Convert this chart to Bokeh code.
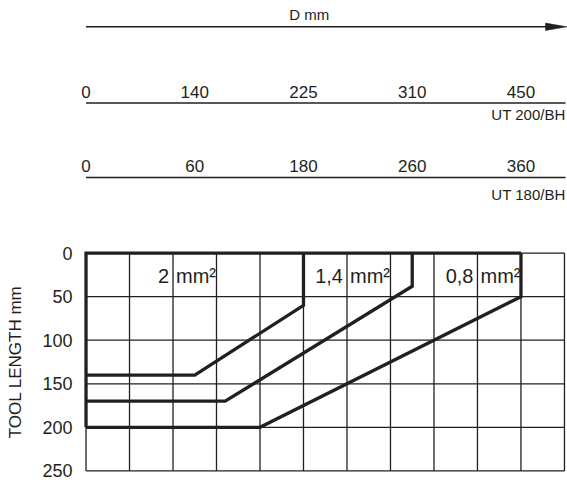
from bokeh.plotting import figure
from bokeh.layouts import column
from bokeh.models import Range1d, FixedTicker
from bokeh.core.properties import value
from bokeh.embed import file_html
from bokeh.resources import INLINE

# ---------------- data ----------------
# grid columns (x, in chart cells) and tool length rows (mm)
grid_cols = list(range(0, 12))
grid_rows = [0, 50, 100, 150, 200, 250]

# top diameter scales: tick positions in grid cells and their labels
scale_pos = [0, 2.5, 5, 7.5, 10]
ut200_labels = ["0", "140", "225", "310", "450"]
ut180_labels = ["0", "60", "180", "260", "360"]

# limit curves (x in grid cells, y = tool length mm)
curve_2_x = [0, 2.5, 5, 5]
curve_2_y = [140, 140, 60, 0]
curve_14_x = [0, 3.2, 7.5, 7.5]
curve_14_y = [170, 170, 38, 0]
curve_08_x = [0, 4, 10, 10]
curve_08_y = [200, 200, 50, 0]

# outer frame of the usable area
frame_x = [10, 0, 0]
frame_y = [0, 0, 200]

area_values = ["2", "1,4", "0,8"]
area_x = [2, 6, 9]
area_unit = ["mm²", "mm²", "mm²"]

INK = "#231f20"
FONT = "Liberation Sans"

W = 567
XR = (-0.15, 11.07)
BORDER_L = 79

# ---------------- top scales figure ----------------
t = figure(width=W, height=228, x_range=Range1d(*XR), y_range=Range1d(228, 0),
           min_border_left=BORDER_L, min_border_right=0, min_border_top=0, min_border_bottom=0,
           toolbar_location=None, output_backend="svg",
           x_axis_location=None, y_axis_location=None)
t.grid.visible = False
t.outline_line_color = None

t.text(x=[5.13], y=[14.2], text=["D mm"], text_align="center", text_baseline="alphabetic",
       text_font=value(FONT), text_font_size="15px", text_color=INK)
t.line(x=[0, 10.6], y=[26.3, 26.3], line_width=1.4, line_color=INK)
t.patch(x=[10.564, 11.06, 10.564], y=[22.6, 26.3, 30.0], fill_color=INK, line_color=INK, line_width=0.5)

for lbls, base, ly, name, ny in [(ut200_labels, 91, 102.5, "UT 200/BH", 114),
                                 (ut180_labels, 165, 177, "UT 180/BH", 193.7)]:
    t.text(x=scale_pos, y=[base] * len(scale_pos), text=lbls, text_align="center",
           text_baseline="alphabetic", text_font=value(FONT), text_font_size="17px", text_color=INK)
    t.line(x=[0, 11.024], y=[ly, ly], line_width=1.4, line_color=INK)
    t.text(x=[11.024], y=[ny], text=[name], text_align="right", text_baseline="alphabetic",
           text_font=value(FONT), text_font_size="15px", text_color=INK)

# ---------------- chart figure ----------------
p = figure(width=W, height=255, x_range=Range1d(*XR), y_range=Range1d(253, -3),
           min_border_left=BORDER_L, min_border_right=0, min_border_top=22, min_border_bottom=10,
           toolbar_location=None, output_backend="svg", x_axis_location=None)
p.grid.visible = False
p.outline_line_color = None

ax = p.yaxis[0]
ax.ticker = FixedTicker(ticks=grid_rows)
ax.axis_line_color = None
ax.major_tick_line_color = None
ax.minor_tick_line_color = None
ax.major_tick_in = 0
ax.major_tick_out = 0
ax.major_label_standoff = 7
ax.major_label_text_font = FONT
ax.major_label_text_font_size = "18px"
ax.major_label_text_color = INK
ax.axis_label = "TOOL LENGTH mm"
ax.axis_label_text_font = FONT
ax.axis_label_text_font_size = "17px"
ax.axis_label_text_font_style = "normal"
ax.axis_label_text_color = INK
ax.axis_label_standoff = 14

# grid
p.segment(x0=grid_cols, y0=[0] * len(grid_cols), x1=grid_cols, y1=[250] * len(grid_cols),
          line_color=INK, line_width=1.3)
p.segment(x0=[0] * len(grid_rows), y0=grid_rows, x1=[11] * len(grid_rows), y1=grid_rows,
          line_color=INK, line_width=1.3)

# thick curves
for xs, ys in [(frame_x, frame_y), (curve_2_x, curve_2_y), (curve_14_x, curve_14_y), (curve_08_x, curve_08_y)]:
    p.line(x=xs, y=ys, line_color=INK, line_width=3.3, line_join="miter")

# area labels
p.text(x=area_x, y=[26] * 3, text=area_values, text_align="right", text_baseline="alphabetic",
       x_offset=-4, text_font=value(FONT), text_font_size="20px", text_color=INK)
p.text(x=area_x, y=[26] * 3, text=area_unit, text_align="left", text_baseline="alphabetic",
       x_offset=3, text_font=value(FONT), text_font_size="20px", text_color=INK)

layout = column(t, p)
open("out.html", "w").write(file_html(layout, INLINE))
